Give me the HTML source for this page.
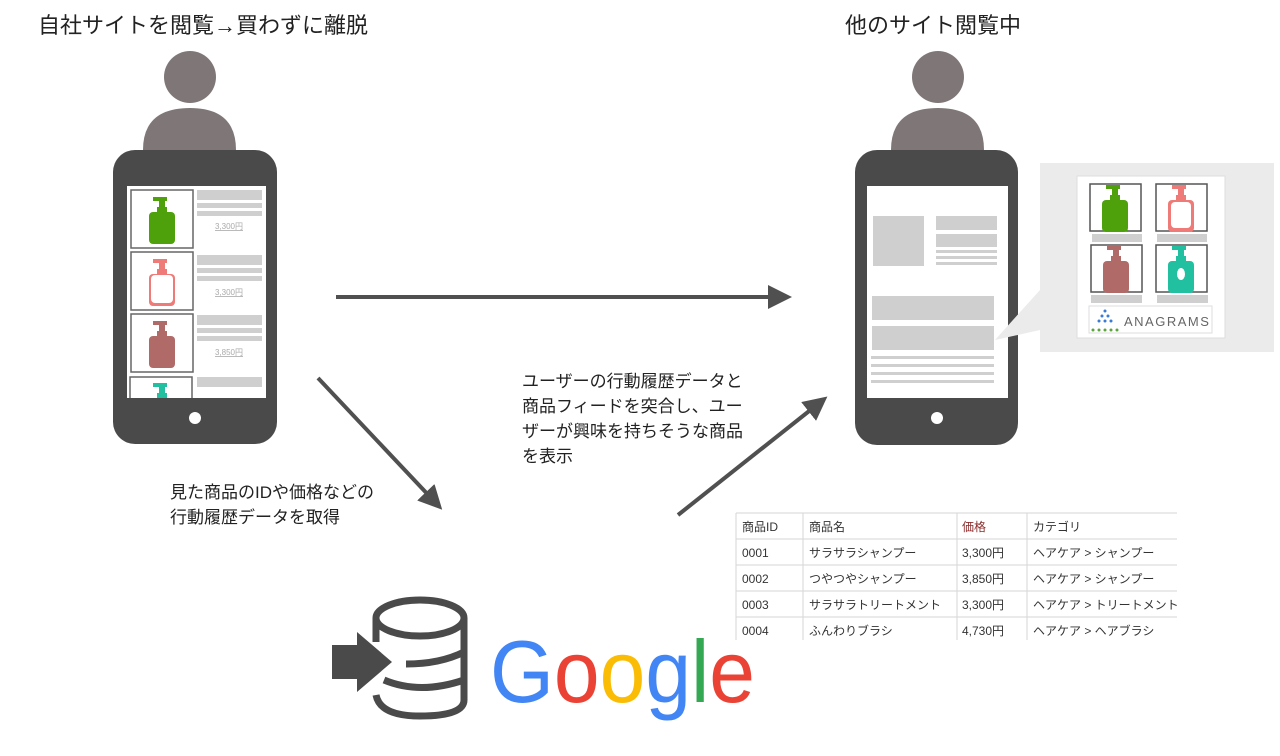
<!DOCTYPE html>
<html><head><meta charset="utf-8"><style>
body{margin:0;background:#fff;}
svg text{font-family:"Liberation Sans","Noto Sans CJK JP",sans-serif;}
</style></head><body>
<svg width="1280" height="751" viewBox="0 0 1280 751" xmlns="http://www.w3.org/2000/svg">
<defs>
<g id="bottle"><rect x="-3" y="-22" width="6" height="8"/><rect x="-9" y="-25" width="14" height="4"/><rect x="-5" y="-15" width="10" height="6"/><rect x="-13" y="-10" width="26" height="32" rx="4"/></g>
<marker id="ah" markerWidth="6" markerHeight="6" refX="3" refY="3" orient="auto" markerUnits="strokeWidth"><path d="M0,0 L6,3 L0,6 Z" fill="#505050"/></marker>
<clipPath id="scr"><rect x="127" y="186" width="139" height="212"/></clipPath>
</defs>
<text x="38" y="33" font-size="22" fill="#222">自社サイトを閲覧→買わずに離脱</text>
<text x="845" y="33" font-size="22" fill="#222">他のサイト閲覧中</text>
<circle cx="190" cy="77" r="26" fill="#7f7777"/>
<path d="M143,150 Q143,108 190,108 Q236,108 236,150 Z" fill="#7f7777"/>
<circle cx="938" cy="77" r="26" fill="#7f7777"/>
<path d="M891,150 Q891,108 938,108 Q984,108 984,150 Z" fill="#7f7777"/>
<!-- left phone -->
<rect x="113" y="150" width="164" height="294" rx="22" fill="#4a4a4a"/>
<rect x="127" y="186" width="139" height="212" fill="#fff"/>
<g clip-path="url(#scr)">
<g stroke="#666" stroke-width="1.5" fill="none">
<rect x="131" y="190" width="62" height="58"/><rect x="131" y="252" width="62" height="58"/><rect x="131" y="314" width="62" height="58"/><rect x="130" y="377" width="62" height="30"/>
</g>
<use href="#bottle" x="162" y="222" fill="#4ea10a"/>
<use href="#bottle" x="162" y="284" fill="#ee7b78"/>
<rect x="151" y="275" width="22" height="28" rx="4" fill="#fff"/>
<use href="#bottle" x="162" y="346" fill="#b06a67"/>
<use href="#bottle" x="162" y="408" fill="#20c0a0"/>
</g>
<g fill="#cfcfcf">
<rect x="197" y="190" width="65" height="10"/><rect x="197" y="203" width="65" height="5"/><rect x="197" y="211" width="65" height="5"/>
<rect x="197" y="255" width="65" height="10"/><rect x="197" y="268" width="65" height="5"/><rect x="197" y="276" width="65" height="5"/>
<rect x="197" y="315" width="65" height="10"/><rect x="197" y="328" width="65" height="5"/><rect x="197" y="336" width="65" height="5"/>
<rect x="197" y="377" width="65" height="10"/>
</g>
<text x="229" y="229" font-size="8" fill="#aaa" text-anchor="middle" text-decoration="underline">3,300円</text>
<text x="229" y="295" font-size="8" fill="#aaa" text-anchor="middle" text-decoration="underline">3,300円</text>
<text x="229" y="355" font-size="8" fill="#aaa" text-anchor="middle" text-decoration="underline">3,850円</text>
<circle cx="195" cy="418" r="6" fill="#fff"/>
<!-- right phone -->
<rect x="855" y="150" width="163" height="295" rx="22" fill="#4a4a4a"/>
<rect x="867" y="186" width="141" height="212" fill="#fff"/>
<g fill="#cfcfcf">
<rect x="873" y="216" width="51" height="50"/>
<rect x="936" y="216" width="61" height="14"/><rect x="936" y="234" width="61" height="13"/>
<rect x="936" y="250" width="61" height="3"/><rect x="936" y="256" width="61" height="3"/><rect x="936" y="262" width="61" height="3"/>
<rect x="872" y="296" width="122" height="24"/><rect x="872" y="326" width="122" height="24"/>
<rect x="871" y="356" width="123" height="3"/><rect x="871" y="364" width="123" height="3"/><rect x="871" y="372" width="123" height="3"/><rect x="871" y="380" width="123" height="3"/>
</g>
<circle cx="937" cy="418" r="6" fill="#fff"/>
<!-- callout -->
<path d="M995,340 L1040,290 L1040,330 Z" fill="#ebebeb"/>
<rect x="1040" y="163" width="234" height="189" fill="#ebebeb"/>
<rect x="1077" y="176" width="148" height="162" fill="#fff" stroke="#ddd"/>
<g stroke="#555" stroke-width="1.5" fill="none">
<rect x="1090" y="184" width="51" height="47"/><rect x="1156" y="184" width="51" height="47"/>
<rect x="1091" y="245" width="51" height="47"/><rect x="1156" y="245" width="51" height="47"/>
</g>
<use href="#bottle" x="1115" y="210" fill="#4ea10a"/>
<use href="#bottle" x="1181" y="210" fill="#ee7b78"/>
<rect x="1171" y="202" width="20" height="26" rx="4" fill="#fff"/>
<use href="#bottle" x="1116" y="271" fill="#b06a67"/>
<use href="#bottle" x="1181" y="271" fill="#20c0a0"/>
<ellipse cx="1181" cy="274" rx="4" ry="6" fill="#fff"/>
<g fill="#cfcfcf">
<rect x="1092" y="234" width="50" height="8"/><rect x="1157" y="234" width="50" height="8"/>
<rect x="1091" y="295" width="51" height="8"/><rect x="1157" y="295" width="51" height="8"/>
</g>
<rect x="1089" y="306" width="123" height="27" fill="#fff" stroke="#ddd"/>
<g fill="#3a7bd5"><circle cx="1105" cy="311" r="1.5"/><circle cx="1102" cy="316" r="1.5"/><circle cx="1108" cy="316" r="1.5"/><circle cx="1099" cy="321" r="1.5"/><circle cx="1105" cy="321" r="1.5"/><circle cx="1111" cy="321" r="1.5"/></g>
<g fill="#5aa63a"><circle cx="1093" cy="330" r="1.5"/><circle cx="1099" cy="330" r="1.5"/><circle cx="1105" cy="330" r="1.5"/><circle cx="1111" cy="330" r="1.5"/><circle cx="1117" cy="330" r="1.5"/></g>
<text x="1124" y="326" font-size="13" fill="#666" letter-spacing="1.5">ANAGRAMS</text>
<!-- arrows -->
<g stroke="#505050" stroke-width="4" fill="none">
<line x1="336" y1="297" x2="780" y2="297" marker-end="url(#ah)"/>
<line x1="318" y1="378" x2="434" y2="501" marker-end="url(#ah)"/>
<line x1="678" y1="515" x2="818" y2="404" marker-end="url(#ah)"/>
</g>
<text font-size="17" fill="#222"><tspan x="522" y="387">ユーザーの行動履歴データと</tspan><tspan x="522" y="412">商品フィードを突合し、ユー</tspan><tspan x="522" y="437">ザーが興味を持ちそうな商品</tspan><tspan x="522" y="462">を表示</tspan></text>
<text font-size="17" fill="#222"><tspan x="170" y="498">見た商品のIDや価格などの</tspan><tspan x="170" y="523">行動履歴データを取得</tspan></text>
<!-- table -->
<g stroke="#d5d5d5" stroke-width="1">
<line x1="736" y1="513" x2="1177" y2="513"/><line x1="736" y1="539" x2="1177" y2="539"/><line x1="736" y1="565" x2="1177" y2="565"/><line x1="736" y1="591" x2="1177" y2="591"/><line x1="736" y1="617" x2="1177" y2="617"/>
<line x1="736" y1="513" x2="736" y2="640"/><line x1="803" y1="513" x2="803" y2="640"/><line x1="957" y1="513" x2="957" y2="640"/><line x1="1027" y1="513" x2="1027" y2="640"/>
</g>
<g font-size="12" fill="#333">
<text x="742" y="531">商品ID</text><text x="809" y="531">商品名</text><text x="962" y="531" fill="#8b2d2d">価格</text><text x="1033" y="531">カテゴリ</text>
<text x="742" y="557">0001</text><text x="809" y="557">サラサラシャンプー</text><text x="962" y="557">3,300円</text><text x="1033" y="557">ヘアケア &gt; シャンプー</text>
<text x="742" y="583">0002</text><text x="809" y="583">つやつやシャンプー</text><text x="962" y="583">3,850円</text><text x="1033" y="583">ヘアケア &gt; シャンプー</text>
<text x="742" y="609">0003</text><text x="809" y="609">サラサラトリートメント</text><text x="962" y="609">3,300円</text><text x="1033" y="609">ヘアケア &gt; トリートメント</text>
<text x="742" y="635">0004</text><text x="809" y="635">ふんわりブラシ</text><text x="962" y="635">4,730円</text><text x="1033" y="635">ヘアケア &gt; ヘアブラシ</text>
</g>
<!-- DB icon -->
<g stroke="#4a4a4a" stroke-width="7" fill="none">
<ellipse cx="420" cy="618" rx="44" ry="18"/>
<path d="M376,618 V642"/><path d="M464,618 V700"/>
<path d="M406,664 Q440,664 464,652"/>
<path d="M384,680 Q420,695 464,680"/>
<path d="M376,695 Q380,716 420,716 Q464,716 464,700"/>
</g>
<path d="M332,645 H357 V632 L392,662 L357,692 V679 H332 Z" fill="#4a4a4a"/>
<!-- Google -->
<text x="490" y="702" font-size="88" textLength="265" lengthAdjust="spacingAndGlyphs"><tspan fill="#4285f4">G</tspan><tspan fill="#ea4335">o</tspan><tspan fill="#fbbc05">o</tspan><tspan fill="#4285f4">g</tspan><tspan fill="#34a853">l</tspan><tspan fill="#ea4335">e</tspan></text>
</svg>
</body></html>
